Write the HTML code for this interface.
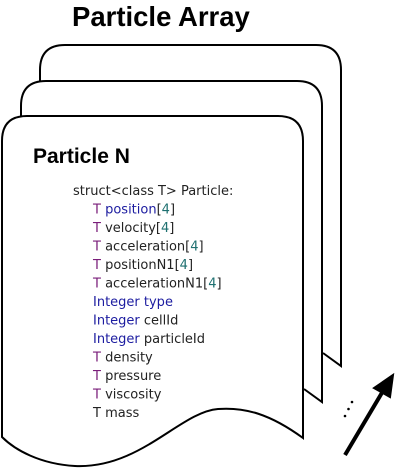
<!DOCTYPE html>
<html><head><meta charset="utf-8"><style>
html,body{margin:0;padding:0;background:#fff;}
svg{display:block;}
.c{font-family:"DejaVu Sans","Liberation Sans",sans-serif;font-size:13px;fill:#222;}
.p{fill:#7a1e7a}.b{fill:#1c1ca0}.t{fill:#1e7070}
</style></head><body>
<svg width="405" height="476" viewBox="0 0 405 476" xmlns="http://www.w3.org/2000/svg">
<g fill="#fff" stroke="#000" stroke-width="2">
<path d="M40,366 L40,70 Q40,45 65,45 L316,45 Q341,45 341,70 L341,366 L323,353"/>
<path d="M21,402 L21,106 Q21,81 46,81 L297,81 Q322,81 322,106 L322,402 L304,389"/>
<path d="M2,437 L2,141 Q2,116 27,116 L278,116 Q303,116 303,141 L303,438 C270,414 245,407 218,409 C180,412 140,469 75,466 C40,464 15,450 2,437 Z"/>
</g>
<text x="72" y="26" font-family="Liberation Sans,sans-serif" font-weight="bold" font-size="27.5">Particle Array</text>
<text x="33" y="163" font-family="Liberation Sans,sans-serif" font-weight="bold" font-size="21">Particle N</text>
<g class="c">
<text x="73" y="195">struct&lt;class T&gt; Particle:</text>
<text x="93" y="213.5"><tspan class="p">T</tspan> <tspan class="b">position</tspan>[<tspan class="t">4</tspan>]</text>
<text x="93" y="232"><tspan class="p">T</tspan> velocity[<tspan class="t">4</tspan>]</text>
<text x="93" y="250.5"><tspan class="p">T</tspan> acceleration[<tspan class="t">4</tspan>]</text>
<text x="93" y="269"><tspan class="p">T</tspan> positionN1[<tspan class="t">4</tspan>]</text>
<text x="93" y="287.5"><tspan class="p">T</tspan> accelerationN1[<tspan class="t">4</tspan>]</text>
<text x="93" y="306"><tspan class="b">Integer type</tspan></text>
<text x="93" y="324.5"><tspan class="b">Integer</tspan> cellId</text>
<text x="93" y="343"><tspan class="b">Integer</tspan> particleId</text>
<text x="93" y="361.5"><tspan class="p">T</tspan> density</text>
<text x="93" y="380"><tspan class="p">T</tspan> pressure</text>
<text x="93" y="398.5"><tspan class="p">T</tspan> viscosity</text>
<text x="93" y="417">T mass</text>
</g>
<line x1="345" y1="455" x2="383" y2="391" stroke="#000" stroke-width="4"/>
<polygon points="393,375 374,388 390,397" fill="#000" stroke="#000" stroke-width="2"/>
<circle cx="345" cy="416" r="1.3" fill="#000"/>
<circle cx="348.5" cy="409" r="1.3" fill="#000"/>
<circle cx="352" cy="402" r="1.3" fill="#000"/>
</svg>
</body></html>
